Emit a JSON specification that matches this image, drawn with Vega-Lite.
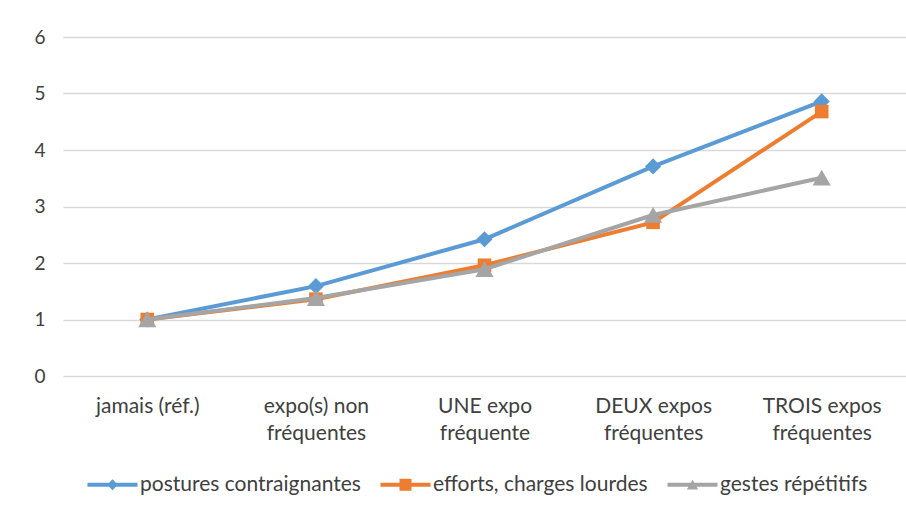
{
  "$schema": "https://vega.github.io/schema/vega-lite/v6.json",
  "autosize": {"type": "none"},
  "padding": {"left": 63, "top": 37, "right": 0, "bottom": 132},
  "width": 843,
  "height": 339,
  "background": "white",
  "config": {
    "font": "Lato",
    "view": {"stroke": null},
    "axis": {"labelFont": "Lato", "labelFontSize": 21, "labelColor": "#404040", "domain": false, "ticks": false, "tickSize": 0, "title": null, "labelLimit": 400}
  },
  "data": {
    "values": [
      {"cat": "jamais (réf.)", "series": "postures contraignantes", "value": 1.0},
      {"cat": "expo(s) non\nfréquentes", "series": "postures contraignantes", "value": 1.59},
      {"cat": "UNE expo\nfréquente", "series": "postures contraignantes", "value": 2.42},
      {"cat": "DEUX expos\nfréquentes", "series": "postures contraignantes", "value": 3.71},
      {"cat": "TROIS expos\nfréquentes", "series": "postures contraignantes", "value": 4.86},
      {"cat": "jamais (réf.)", "series": "efforts, charges lourdes", "value": 1.0},
      {"cat": "expo(s) non\nfréquentes", "series": "efforts, charges lourdes", "value": 1.36},
      {"cat": "UNE expo\nfréquente", "series": "efforts, charges lourdes", "value": 1.96},
      {"cat": "DEUX expos\nfréquentes", "series": "efforts, charges lourdes", "value": 2.72},
      {"cat": "TROIS expos\nfréquentes", "series": "efforts, charges lourdes", "value": 4.68},
      {"cat": "jamais (réf.)", "series": "gestes répétitifs", "value": 1.0},
      {"cat": "expo(s) non\nfréquentes", "series": "gestes répétitifs", "value": 1.38},
      {"cat": "UNE expo\nfréquente", "series": "gestes répétitifs", "value": 1.89},
      {"cat": "DEUX expos\nfréquentes", "series": "gestes répétitifs", "value": 2.85},
      {"cat": "TROIS expos\nfréquentes", "series": "gestes répétitifs", "value": 3.51}
    ]
  },
  "encoding": {
    "x": {
      "field": "cat", "type": "nominal", "sort": null,
      "scale": {"type": "point", "padding": 0.5},
      "axis": {"labelAngle": 0, "labelExpr": "split(datum.label, '\\n')", "labelLineHeight": 27, "labelPadding": 19, "labelBaseline": "top", "grid": false}
    },
    "y": {
      "field": "value", "type": "quantitative",
      "scale": {"domain": [0, 6], "nice": false},
      "axis": {"values": [0, 1, 2, 3, 4, 5, 6], "grid": true, "gridColor": "#d9d9d9", "gridWidth": 1.3, "labelPadding": 18, "labelAlign": "right", "labelFontSize": 19}
    }
  },
  "layer": [
    {
      "transform": [{"filter": "datum.series === 'postures contraignantes'"}],
      "mark": {"type": "line", "color": "#5B9BD5", "strokeWidth": 4, "point": {"shape": "diamond", "size": 260, "filled": true, "color": "#5B9BD5", "opacity": 1}}
    },
    {
      "transform": [{"filter": "datum.series === 'efforts, charges lourdes'"}],
      "mark": {"type": "line", "color": "#ED7D31", "strokeWidth": 4, "point": {"shape": "square", "size": 185, "filled": true, "color": "#ED7D31", "opacity": 1}}
    },
    {
      "transform": [{"filter": "datum.series === 'gestes répétitifs'"}],
      "mark": {"type": "line", "color": "#A5A5A5", "strokeWidth": 4, "point": {"shape": "triangle-up", "size": 330, "filled": true, "color": "#A5A5A5", "opacity": 1}}
    },
    {
      "mark": {"type": "point", "filled": true, "opacity": 0},
      "encoding": {
        "color": {
          "field": "series", "type": "nominal",
          "scale": {"domain": ["postures contraignantes", "efforts, charges lourdes", "gestes répétitifs"], "range": ["#5B9BD5", "#ED7D31", "#A5A5A5"]},
          "legend": {
            "title": null, "orient": "none", "direction": "horizontal", "legendX": 39, "legendY": 437,
            "labelFont": "Lato", "labelFontSize": 21, "labelColor": "#404040", "labelLimit": 400,
            "symbolSize": 144, "symbolOpacity": 1, "symbolStrokeWidth": 0,
            "labelOffset": 17, "columnPadding": 19
          }
        },
        "shape": {
          "field": "series", "type": "nominal",
          "scale": {"domain": ["postures contraignantes", "efforts, charges lourdes", "gestes répétitifs"], "range": [
            "M-4.17,-0.32L4.17,-0.32L4.17,0.32L-4.17,0.32Z M0,-0.9L0.9,0L0,0.9L-0.9,0Z",
            "M-4.17,-0.32L4.17,-0.32L4.17,0.32L-4.17,0.32Z M-1,-1L1,-1L1,1L-1,1Z",
            "M-4.17,-0.32L4.17,-0.32L4.17,0.32L-4.17,0.32Z M0,-0.85L0.95,0.8L-0.95,0.8Z"
          ]},
          "legend": {
            "title": null, "orient": "none", "direction": "horizontal", "legendX": 39, "legendY": 437,
            "labelFont": "Lato", "labelFontSize": 21, "labelColor": "#404040", "labelLimit": 400,
            "symbolSize": 144, "symbolOpacity": 1, "symbolStrokeWidth": 0,
            "labelOffset": 17, "columnPadding": 19
          }
        }
      }
    }
  ]
}
